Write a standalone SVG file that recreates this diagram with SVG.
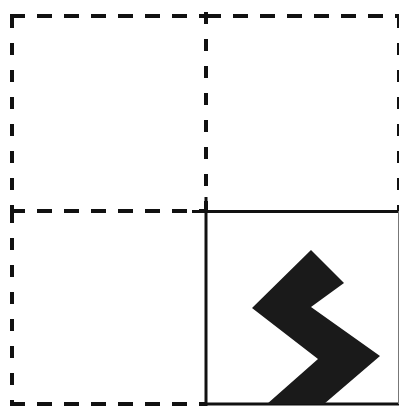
<svg xmlns="http://www.w3.org/2000/svg" width="399" height="406" viewBox="0 0 399 406">
<style>
.h{stroke:#111;stroke-width:4;fill:none;stroke-dasharray:15 12}
.v{stroke:#111;stroke-width:4;fill:none;stroke-dasharray:12 15}
.s{stroke:#111;stroke-width:3;fill:none}
.z{fill:#1a1a1a}
</style>
<rect width="399" height="406" fill="#fff"/>
<g id="cell-top-left">
<line class="h" x1="10" y1="16" x2="206" y2="16"/>
<line class="v" x1="12" y1="16" x2="12" y2="211"/>
</g>
<g id="cell-top-right">
<line class="h" x1="206" y1="16" x2="399" y2="16"/>
<line class="v" x1="206" y1="12" x2="206" y2="211"/>
<line class="v" x1="399" y1="16" x2="399" y2="211"/>
</g>
<g id="cell-bottom-left">
<line class="h" x1="10" y1="211" x2="206" y2="211"/>
<line class="v" x1="12" y1="211" x2="12" y2="404"/>
<line class="h" x1="10" y1="404" x2="206" y2="404"/>
</g>
<g id="cell-bottom-right">
<line class="s" x1="192" y1="211.5" x2="399" y2="211.5"/>
<line class="s" x1="206" y1="197" x2="206" y2="406"/>
<line class="s" x1="206" y1="404" x2="399" y2="404"/>
<line x1="398.5" y1="211" x2="398.5" y2="404" stroke="#777" stroke-width="1"/>
<polygon class="z" points="311,250 344,283 311,307 380,356 324,404 267,404 318,359 252,308"/>
</g>
</svg>
